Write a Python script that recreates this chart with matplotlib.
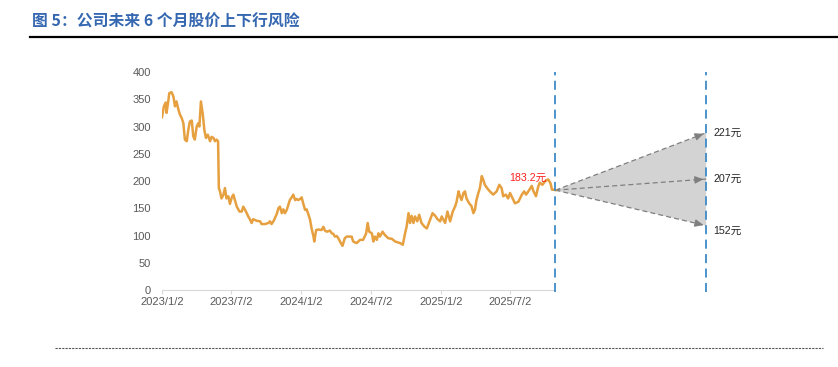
import numpy as np
import pandas as pd
import matplotlib as mpl
import matplotlib.pyplot as plt
import matplotlib.dates as mdates
from matplotlib.lines import Line2D

mpl.rcParams['font.family'] = ['Liberation Sans', 'Noto Sans CJK SC', 'DejaVu Sans']

# data
start = pd.Timestamp('2023-01-02')
day_offset = [0, 5, 10, 12, 17, 19, 25, 30, 34, 38, 43, 47, 52, 56, 60, 65, 69, 73, 78, 82,
              86, 91, 95, 98, 102, 107, 111, 115, 120, 126, 130, 135, 139, 143, 147, 149, 152, 156, 161, 165,
              169, 174, 178, 183, 187, 191, 196, 203, 209, 213, 220, 226, 231, 235, 239, 248, 257, 261, 270, 279,
              283, 287, 292, 296, 301, 305, 309, 314, 318, 322, 327, 331, 335, 340, 344, 349, 353, 357, 362, 366,
              370, 375, 379, 384, 388, 392, 397, 399, 404, 410, 418, 423, 427, 432, 440, 445, 449, 453, 458, 462,
              468, 473, 479, 484, 488, 497, 501, 510, 519, 527, 535, 539, 543, 550, 554, 558, 563, 567, 571, 578,
              584, 593, 602, 611, 624, 631, 637, 641, 646, 650, 654, 659, 663, 669, 674, 680, 688, 694, 701, 709,
              716, 722, 729, 733, 742, 748, 755, 762, 768, 772, 777, 781, 785, 790, 794, 798, 805, 811, 816, 820,
              824, 829, 833, 838, 842, 846, 852, 859, 868, 877, 884, 890, 894, 901, 907, 912, 919, 925, 934, 943,
              949, 954, 960, 969, 973, 980, 986, 990, 997, 1003, 1012, 1018, 1022, 1027, 1031]
price = [317, 337, 344, 325, 349, 361, 363, 355, 337, 346, 331, 322, 315, 306, 276, 273, 294, 309, 311, 282,
         276, 300, 306, 300, 346, 322, 294, 279, 285, 273, 281, 279, 273, 276, 273, 187, 181, 168, 175, 187,
         168, 172, 158, 170, 175, 165, 153, 144, 144, 153, 144, 135, 129, 123, 130, 127, 126, 121, 121, 123,
         126, 121, 126, 132, 140, 150, 153, 141, 148, 141, 147, 156, 165, 170, 175, 165, 167, 165, 167, 170,
         159, 147, 148, 138, 129, 113, 98, 89, 110, 111, 110, 116, 109, 107, 109, 104, 103, 98, 99, 95,
         87, 81, 95, 98, 98, 98, 89, 86, 92, 92, 104, 123, 107, 104, 89, 98, 92, 104, 98, 107,
         101, 95, 94, 89, 86, 83, 104, 116, 141, 123, 136, 123, 135, 126, 138, 123, 116, 113, 126, 141,
         136, 130, 126, 135, 123, 144, 126, 144, 153, 162, 181, 172, 165, 178, 181, 168, 159, 154, 141, 147,
         165, 178, 187, 209, 202, 193, 187, 181, 175, 181, 193, 187, 172, 175, 168, 178, 168, 159, 162, 175,
         181, 175, 181, 191, 182, 172, 190, 197, 193, 199, 203, 196, 184, 184, 183.2]

last_price = 183.2
horizon_offset = 1426
target_labels = ['221元', '207元', '152元']
target_pos = [288.5, 203.6, 118]     # drawn positions of the arrows on the chart

yticks = [0, 50, 100, 150, 200, 250, 300, 350, 400]
xtick_dates = ['2023-01-02', '2023-07-02', '2024-01-02', '2024-07-02', '2025-01-02', '2025-07-02']
xtick_labels = ['2023/1/2', '2023/7/2', '2024/1/2', '2024/7/2', '2025/1/2', '2025/7/2']

dates = start + pd.to_timedelta(day_offset, unit='D')
end_date = dates[-1]
horizon = start + pd.Timedelta(days=horizon_offset)

fig = plt.figure(figsize=(8.38, 3.67), dpi=100)
ax = fig.add_axes([0.1933, 0.2098, 0.7136, 0.594])

ax.plot(dates, price, color='#E6A040', lw=1.8, zorder=3)

# cone
ax.fill([end_date, horizon, horizon], [last_price, target_pos[0], target_pos[2]],
        color='#D3D3D3', lw=0, zorder=1)
for yp in target_pos:
    ax.plot([end_date, horizon], [last_price, yp], ls=(0, (4, 2.5)), color='#7F7F7F', lw=0.9, zorder=2)
    back = horizon - pd.Timedelta(days=25)
    frac = (back - end_date) / (horizon - end_date)
    ax.annotate('', xy=(horizon, yp), xytext=(back, last_price + (yp - last_price) * frac),
                arrowprops=dict(arrowstyle='-|>,head_length=0.5,head_width=0.22', color='#7F7F7F', lw=0.9),
                zorder=2)

# vertical dashed markers
for d in [end_date, horizon]:
    ax.plot([d, d], [-4, 400], color='#3F8AC8', lw=1.3, ls=(0, (5, 3)), clip_on=False, zorder=4)

# labels
ax.text(end_date - pd.Timedelta(days=72), 196, '183.2元', color='#FF2020', fontsize=7.7,
        ha='center', va='bottom')
label_dy = [0, 0, -10]
for lab, yp, dy in zip(target_labels, target_pos, label_dy):
    ax.text(horizon + pd.Timedelta(days=18), yp + dy, lab, fontsize=7.7, color='#262626',
            ha='left', va='center')

ax.set_ylim(0, 400)
ax.set_xlim(start, start + pd.Timedelta(days=1567))
ax.set_yticks(yticks)
ax.set_xticks(pd.to_datetime(xtick_dates))
ax.set_xticklabels(xtick_labels)
ax.tick_params(axis='y', length=0, pad=8, labelsize=8, labelcolor='#595959')
ax.tick_params(axis='x', length=3, color='#D9D9D9', pad=2, labelsize=8, labelcolor='#595959')
for s in ['top', 'right', 'left']:
    ax.spines[s].set_visible(False)
ax.spines['bottom'].set_color('#D9D9D9')
ax.spines['bottom'].set_bounds(mdates.date2num(start), mdates.date2num(end_date))

# title and frame lines
fig.text(32 / 838, 1 - 22 / 367, '图 5：公司未来 6 个月股价上下行风险', color='#3568B0',
         fontsize=11.4, fontweight='bold', family=['Noto Sans CJK SC', 'DejaVu Sans'],
         ha='left', va='center')
fig.add_artist(Line2D([30 / 838, 1.0], [1 - 37 / 367] * 2, color='black', lw=1.6))
fig.add_artist(Line2D([55 / 838, 823 / 838], [1 - 348 / 367] * 2, color='#555555', lw=0.8,
                      ls=(0, (2, 1))))

fig.savefig('out.png', dpi=100)
